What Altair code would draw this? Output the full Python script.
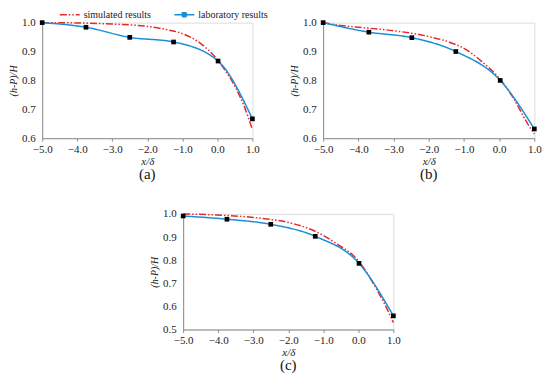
import altair as alt
import pandas as pd

SIM = "simulated results"
LAB = "laboratory results"

# Panel (a)
a_lab_x = [-5.0, -3.75, -2.5, -1.25, 0.02, 1.0]
a_lab_y = [1.0, 0.984, 0.949, 0.933, 0.867, 0.667]
a_sim_x = [-5.0, -4.0, -3.0, -2.0, -1.5, -1.0, -0.5, 0.0, 0.25, 0.5, 0.75, 1.0]
a_sim_y = [1.0, 0.999, 0.995, 0.987, 0.977, 0.962, 0.93, 0.872, 0.83, 0.78, 0.715, 0.63]

# Panel (b)
b_lab_x = [-5.0, -3.7, -2.48, -1.23, 0.03, 1.0]
b_lab_y = [1.0, 0.967, 0.948, 0.9, 0.8, 0.632]
b_sim_x = [-5.0, -4.5, -4.0, -3.0, -2.0, -1.25, -1.0, -0.5, 0.0, 0.4, 0.8, 1.0]
b_sim_y = [1.0, 0.990, 0.984, 0.972, 0.952, 0.925, 0.911, 0.866, 0.808, 0.74, 0.652, 0.615]

# Panel (c)
c_lab_x = [-5.0, -3.75, -2.5, -1.23, 0.02, 1.0]
c_lab_y = [0.991, 0.977, 0.955, 0.903, 0.786, 0.559]
c_sim_x = [-5.0, -4.0, -3.0, -2.5, -2.0, -1.25, -0.65, 0.0, 0.5, 0.75, 1.0]
c_sim_y = [1.0, 0.995, 0.985, 0.976, 0.963, 0.926, 0.874, 0.797, 0.68, 0.61, 0.53]

x_ticks = [-5.0, -4.0, -3.0, -2.0, -1.0, 0.0, 1.0]
ab_y_ticks = [0.6, 0.7, 0.8, 0.9, 1.0]
c_y_ticks = [0.5, 0.6, 0.7, 0.8, 0.9, 1.0]

RED = "#e8282b"
BLUE = "#1b8fd6"
SERIF = "Liberation Serif"

LINE_PATH = "M-2,0L2,0"
LAB_PATH = "M-2,0L2,0M-0.4,-0.4L0.4,-0.4L0.4,0.4L-0.4,0.4Z"


def panel(sim_x, sim_y, lab_x, lab_y, y_ticks, label, w, leg_x):
    sim = pd.DataFrame({"x": sim_x, "y": sim_y, "series": SIM})
    lab = pd.DataFrame({"x": lab_x, "y": lab_y, "series": LAB})
    df = pd.concat([sim, lab], ignore_index=True)
    xs = alt.Scale(domain=[-5, 1], nice=False)
    ys = alt.Scale(domain=[y_ticks[0], y_ticks[-1]], nice=False, zero=False)
    xax = alt.Axis(values=x_ticks, format=".1f", title="x/δ", grid=False,
                   domainColor="#8c8c8c", tickColor="#8c8c8c", tickSize=3,
                   labelOverlap=False, labelFlush=False, labelBound=False,
                   labelFont=SERIF, labelFontSize=11, labelColor="#222",
                   titleFont=SERIF, titleFontStyle="italic", titleFontWeight="normal",
                   titleFontSize=11, titleColor="#222", labelPadding=2, titlePadding=1)
    yax = alt.Axis(values=y_ticks, format=".1f", title="(h-P)/H", grid=False,
                   domainColor="#8c8c8c", ticks=False,
                   labelOverlap=False, labelFlush=False, labelBound=False,
                   labelFont=SERIF, labelFontSize=11, labelColor="#222", labelPadding=7,
                   titleFont=SERIF, titleFontStyle="italic", titleFontWeight="normal",
                   titleFontSize=10, titleColor="#222", titlePadding=3)
    dom = [SIM, LAB]
    leg = alt.Legend(title=None, orient="none", legendX=leg_x, legendY=-14,
                     direction="horizontal", labelFont=SERIF, labelFontSize=10,
                     labelColor="#222", symbolSize=100, symbolStrokeWidth=1.5,
                     columnPadding=20, labelOffset=8, padding=0)
    lines = alt.Chart(df).mark_line(interpolate="monotone", strokeWidth=1.5).encode(
        x=alt.X("x:Q", scale=xs, axis=xax),
        y=alt.Y("y:Q", scale=ys, axis=yax),
        color=alt.Color("series:N", scale=alt.Scale(domain=dom, range=[RED, BLUE]), legend=leg),
        strokeDash=alt.StrokeDash("series:N", scale=alt.Scale(domain=dom, range=[[7, 2, 1.5, 2, 1.5, 2], [1, 0]]), legend=leg),
        shape=alt.Shape("series:N", scale=alt.Scale(domain=dom, range=[LINE_PATH, LAB_PATH]), legend=leg),
        detail="series:N",
    )
    pts = alt.Chart(lab).mark_point(shape="square", filled=True, size=22, color="black", opacity=1).encode(
        x=alt.X("x:Q", scale=xs, axis=xax),
        y=alt.Y("y:Q", scale=ys, axis=yax),
    )
    return alt.layer(lines, pts).properties(
        width=w, height=116,
        title=alt.TitleParams(label, orient="bottom", font=SERIF, fontSize=15,
                              fontWeight="normal", color="#111", offset=1),
    )


pa = panel(a_sim_x, a_sim_y, a_lab_x, a_lab_y, ab_y_ticks, "(a)", 211, 22)
pb = panel(b_sim_x, b_sim_y, b_lab_x, b_lab_y, ab_y_ticks, "(b)", 212, 22)
pc = panel(c_sim_x, c_sim_y, c_lab_x, c_lab_y, c_y_ticks, "(c)", 211, 16)

chart = alt.vconcat(
    alt.hconcat(pa, pb, spacing=28),
    pc,
    spacing=24,
    center=True,
).properties(padding=0).configure_axis(labelOverlap=False).configure_view(stroke=None).configure(background="white")

chart.save("out.html", embed_options={"renderer": "svg", "actions": False})
